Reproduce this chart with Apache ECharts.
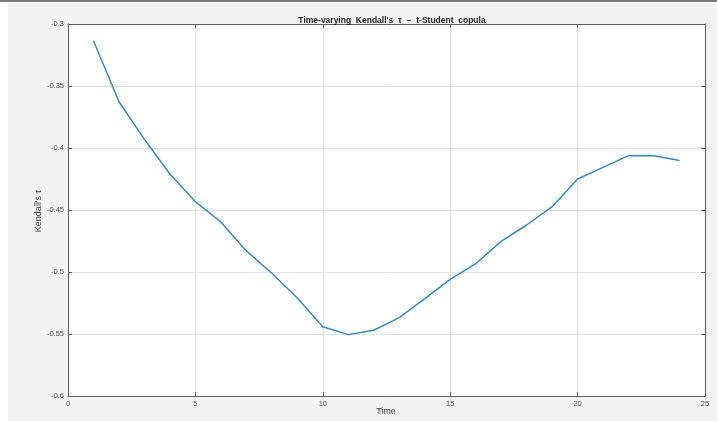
<!DOCTYPE html>
<html>
<head>
<meta charset="utf-8">
<script src="https://cdn.jsdelivr.net/npm/echarts@6/dist/echarts.min.js"></script>
<style>
  html, body { margin: 0; padding: 0; background: #ffffff; overflow: hidden; }
  #chart { width: 717px; height: 421px; }
</style>
</head>
<body>
<div id="chart"></div>
<script>
// Time index of each estimate
const timePoints = [1, 2, 3, 4, 5, 6, 7, 8, 9, 10, 11, 12, 13, 14, 15, 16, 17, 18, 19, 20, 21, 22, 23, 24];
// Time-varying Kendall's tau from the t-Student copula
const kendallTau = [-0.3135, -0.3627, -0.393, -0.421, -0.4433, -0.4597, -0.483, -0.501, -0.521, -0.5441,
                    -0.5505, -0.547, -0.5368, -0.5215, -0.5059, -0.4933, -0.4753, -0.4621, -0.4473, -0.425,
                    -0.4156, -0.4062, -0.4062, -0.41];
const xTicks = [0, 5, 10, 15, 20, 25];
const yTicks = [-0.6, -0.55, -0.5, -0.45, -0.4, -0.35, -0.3];

const chart = echarts.init(document.getElementById('chart'), null, { renderer: 'canvas', width: 717, height: 421 });

const fontFamily = '"Liberation Sans", Arial, Helvetica, sans-serif';
const axisColor = '#5f5f5f';
const labelColor = '#4d4d4d';

const seriesData = timePoints.map((t, i) => [t, kendallTau[i]]);

chart.setOption({
  animation: false,
  backgroundColor: '#ffffff',
  graphic: [
    { type: 'rect', z: -10, shape: { x: 8, y: 3, width: 709, height: 418 }, style: { fill: '#f3f3f3' } },
    { type: 'rect', z: -10, shape: { x: 0, y: 0, width: 717, height: 2 }, style: { fill: '#7a7a7a' } },
    { type: 'rect', z: -9, shape: { x: 68, y: 24, width: 637, height: 372 }, style: { fill: '#ffffff' } },
    {
      type: 'text', x: 39, y: 211, rotation: Math.PI / 2,
      style: { text: "Kendall's \u03c4", font: '9px ' + fontFamily, fill: '#3a3a3a', textAlign: 'center', textVerticalAlign: 'middle' }
    },
    {
      type: 'text', x: 386, y: 412,
      style: { text: 'Time', font: '9px ' + fontFamily, fill: '#3a3a3a', textAlign: 'center', textVerticalAlign: 'middle' }
    }
  ],
  title: {
    text: "Time-varying  Kendall's  \u03c4  \u2212  t-Student  copula",
    left: 387, top: 11, textAlign: 'center',
    textStyle: { fontFamily: fontFamily, fontSize: 8.5, fontWeight: 'bold', color: '#222222' }
  },
  grid: { left: 68, right: 12, top: 24, bottom: 25, containLabel: false, outerBoundsMode: 'none' },
  xAxis: [
    {
      type: 'value', min: 0, max: 25, interval: 5, position: 'bottom',
      axisLine: { show: true, onZero: false, lineStyle: { color: axisColor, width: 1 } },
      axisTick: { show: true, inside: true, length: 4, lineStyle: { color: axisColor } },
      axisLabel: { fontFamily: fontFamily, fontSize: 7.5, color: labelColor, margin: 4,
        formatter: v => xTicks.includes(v) ? String(v) : '' },
      splitLine: { show: true, lineStyle: { color: '#e3e3e3', width: 1 } }
    },
    {
      type: 'value', min: 0, max: 25, interval: 5, position: 'top',
      axisLine: { show: true, onZero: false, lineStyle: { color: axisColor, width: 1 } },
      axisTick: { show: true, inside: true, length: 4, lineStyle: { color: axisColor } },
      axisLabel: { show: false }, splitLine: { show: false }
    }
  ],
  yAxis: [
    {
      type: 'value', min: -0.6, max: -0.3, interval: 0.05, position: 'left',
      axisLine: { show: true, onZero: false, lineStyle: { color: axisColor, width: 1 } },
      axisTick: { show: true, inside: true, length: 4, lineStyle: { color: axisColor } },
      axisLabel: { fontFamily: fontFamily, fontSize: 7.5, color: labelColor, margin: 4,
        formatter: v => {
          const r = Math.round(v * 100) / 100;
          return yTicks.some(t => Math.abs(t - r) < 1e-9) ? String(r) : '';
        } },
      splitLine: { show: true, lineStyle: { color: '#e3e3e3', width: 1 } }
    },
    {
      type: 'value', min: -0.6, max: -0.3, interval: 0.05, position: 'right',
      axisLine: { show: true, onZero: false, lineStyle: { color: axisColor, width: 1 } },
      axisTick: { show: true, inside: true, length: 4, lineStyle: { color: axisColor } },
      axisLabel: { show: false }, splitLine: { show: false }
    }
  ],
  series: [
    {
      type: 'line', xAxisIndex: 0, yAxisIndex: 0,
      data: seriesData, showSymbol: false, smooth: false,
      lineStyle: { color: '#3389d0', width: 1.5 }
    }
  ]
});
</script>
</body>
</html>
